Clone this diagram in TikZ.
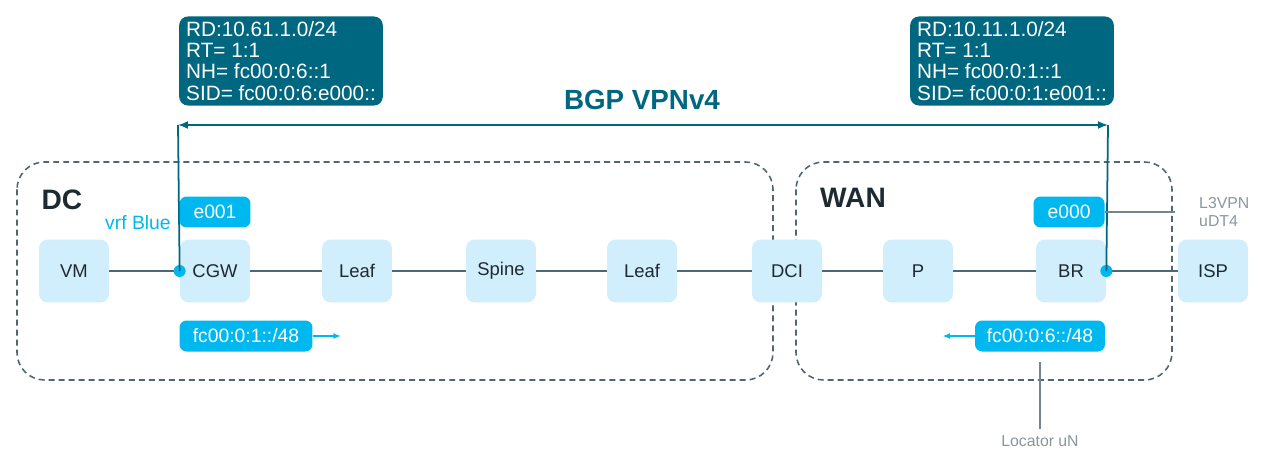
\documentclass[tikz,border=0pt]{standalone}
\usepackage{fontspec}
\setmainfont{Liberation Sans}
\usetikzlibrary{arrows.meta,calc}
\definecolor{NetTeal}{RGB}{0,103,128}
\definecolor{TagCyan}{RGB}{0,184,240}
\definecolor{NodeBlue}{RGB}{208,238,251}
\definecolor{LinkSlate}{RGB}{77,104,115}
\definecolor{NoteGray}{RGB}{138,150,156}
\definecolor{InkDark}{RGB}{30,42,50}

\begin{document}
\begin{tikzpicture}[x=0.02cm,y=-0.02cm,>=Latex,
  font=\fontsize{10.5}{12}\selectfont,
  dev/.style={fill=NodeBlue,rounded corners=5pt,minimum width=1.4cm,minimum height=1.26cm,text=InkDark},
  tag/.style={fill=TagCyan,rounded corners=4pt,text=white,minimum height=0.62cm,minimum width=1.42cm,inner xsep=5pt,font=\fontsize{11}{12}\selectfont},
  info/.style={fill=NetTeal,rounded corners=5pt,text=white,align=left,inner xsep=4pt,inner ysep=3pt,font=\fontsize{11.8}{12}\selectfont},
  link/.style={LinkSlate,line width=1pt},
  zone/.style={LinkSlate,dashed,dash pattern=on 3.4pt off 2.3pt,line width=0.9pt,rounded corners=0.55cm},
  dot/.style={circle,fill=TagCyan,inner sep=0pt,minimum size=0.24cm},
  note/.style={text=NoteGray,font=\fontsize{9}{10.2}\selectfont},
  pointer/.style={LinkSlate!80,line width=0.7pt}]
  \useasboundingbox (0,0) rectangle (1265,470);
  \draw[zone] (17,162) rectangle (773,380);
  \draw[zone] (796,162) rectangle (1172,380);
  \node[font=\bfseries\fontsize{16}{18}\selectfont,text=InkDark] (dc) at (62,200) {DC};
  \node[font=\bfseries\fontsize{16}{18}\selectfont,text=InkDark] (wan) at (853,198) {WAN};
  \node[dev] (vm) at (74,271) {VM};
  \node[dev] (cgw) at (215,271) {CGW};
  \node[dev] (leafA) at (357,271) {Leaf};
  \node[dev] (spine) at (501,271) {Spine};
  \node[dev] (leafB) at (642,271) {Leaf};
  \node[dev] (dci) at (787,271) {DCI};
  \node[dev] (p) at (918,271) {P};
  \node[dev] (br) at (1071,271) {BR};
  \node[dev] (isp) at (1213,271) {ISP};
  \draw[link] (vm) -- (cgw);
  \draw[link] (cgw) -- (leafA);
  \draw[link] (leafA) -- (spine);
  \draw[link] (spine) -- (leafB);
  \draw[link] (leafB) -- (dci);
  \draw[link] (dci) -- (p);
  \draw[link] (p) -- (br);
  \draw[link] (br) -- (isp);
  \node[dot] (vrfL) at (cgw.west) {};
  \node[dot] (vrfR) at (br.east) {};
  \coordinate (bgpL) at (178,125);
  \coordinate (bgpR) at (1108,125);
  \draw[NetTeal,line width=1pt,<->,>={Latex[length=2mm,width=1.6mm]}] (bgpL) -- (bgpR);
  \draw[NetTeal,line width=1pt] (bgpL) -- (vrfL.center);
  \draw[NetTeal,line width=1pt] (bgpR) -- (vrfR.center);
  \node[font=\bfseries\fontsize{15.8}{18}\selectfont,text=NetTeal] (bgp) at (642,100) {BGP VPNv4};
  \node[info] (ribL) at (281,61) {RD:10.61.1.0/24\\RT= 1:1\\NH= fc00:0:6::1\\SID= fc00:0:6:e000::};
  \node[info] (ribR) at (1012,61) {RD:10.11.1.0/24\\RT= 1:1\\NH= fc00:0:1::1\\SID= fc00:0:1:e001::};
  \node[text=TagCyan,font=\fontsize{11}{13}\selectfont] (vrf) at (138,223) {vrf Blue};
  \node[tag] (sidL) at (215,212) {e001};
  \node[tag] (sidR) at (1069,212) {e000};
  \node[tag,minimum width=2.66cm] (locL) at (246,336) {fc00:0:1::/48};
  \node[tag,minimum width=2.6cm] (locR) at (1040,336) {fc00:0:6::/48};
  \draw[TagCyan,line width=0.8pt,->,>={Latex[length=1.5mm,width=1.2mm]}] (locL.east) -- ++(28,0);
  \draw[TagCyan,line width=0.8pt,->,>={Latex[length=1.5mm,width=1.2mm]}] (locR.west) -- ++(-32,0);
  \node[note,align=left,anchor=west] (udt) at (1193,212) {L3VPN\\uDT4};
  \draw[pointer] (sidR.east) -- ++(70,0);
  \node[note] (loc) at (1040,441) {Locator uN};
  \draw[pointer] ([yshift=-6pt]locR.south) -- (loc.north);
\end{tikzpicture}
\end{document}
